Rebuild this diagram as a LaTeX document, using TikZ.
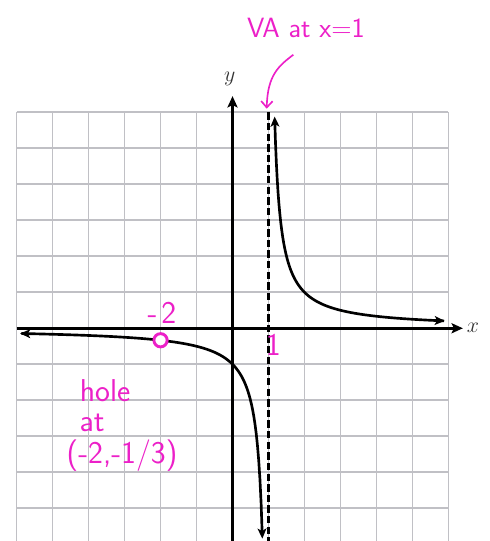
\documentclass[tikz,border=0pt]{standalone}
\usepackage{tikz}
\usetikzlibrary{arrows.meta}
\definecolor{inkpink}{RGB}{236,32,200}
\definecolor{gridgray}{RGB}{192,192,197}

\begin{document}
\begin{tikzpicture}[
  ink/.style={inkpink,font=\sffamily\fontsize{22}{26}\selectfont,inner sep=0pt},
  bigink/.style={ink,font=\sffamily\fontsize{25}{28}\selectfont},
  axis/.style={line width=2.8pt,-{Stealth[length=9pt,width=8pt,inset=2pt]}},
  branch/.style={line width=2.1pt,{Stealth[length=8pt,width=7pt,inset=2pt]}-{Stealth[length=8pt,width=7pt,inset=2pt]}},
  axlabel/.style={black!80,font=\fontsize{17}{20}\selectfont}]
  \clip (-6.46,-5.91) rectangle (7.15,9.12);
  \draw[gridgray,line width=1.4pt] (-6,-6) grid[step=1] (6,6);
  % axes
  \coordinate (xl) at (-6,0);
  \coordinate (xr) at (6.4,0);
  \coordinate (yb) at (0,-6.2);
  \coordinate (yt) at (0,6.45);
  \draw[axis] (xl) -- (xr);
  \draw[axis] (yb) -- (yt);
  \node[axlabel] (xlab) at (6.68,0.02) {$x$};
  \node[axlabel] (ylab) at (-0.08,6.92) {$y$};
  % vertical asymptote
  \coordinate (vaTop) at (1,6);
  \coordinate (vaBot) at (1,-6.2);
  \draw[line width=2.7pt,dash pattern=on 5.8pt off 2.6pt] (vaTop) -- (vaBot);
  % the two branches of 1/(x-1)
  \draw[branch] plot[domain=-5.9:0.83,samples=200] (\x,{1/(\x-1)});
  \draw[branch] plot[domain=1.17:5.9,samples=200] (\x,{1/(\x-1)});
  \node[circle,draw=inkpink,fill=white,line width=2.3pt,inner sep=0pt,minimum size=10.5pt] (hole) at (-2,-1/3) {};
  % notes
  \node[ink] (vaLab) at (2.04,8.34) {VA at x=1};
  \coordinate (vaTail) at (1.69,7.6);
  \coordinate (vaTip) at (0.95,6.1);
  \draw[inkpink,line width=1.3pt,-{Straight Barb[length=5pt,width=9pt]}] (vaTail) .. controls (1.3,7.3) and (0.97,7.05) .. (vaTip);
  \node[bigink] (holeX) at (-1.96,0.43) {-\hspace{3pt}2};
  \node[bigink] (oneLab) at (1.13,-0.47) {1};
  \node[bigink] (holeA) at (-3.54,-1.74) {hole};
  \node[bigink] (holeB) at (-3.9,-2.63) {at};
  \node[bigink] (holeC) at (-3.07,-3.55) {(-2,-1/3)};
\end{tikzpicture}
\end{document}
